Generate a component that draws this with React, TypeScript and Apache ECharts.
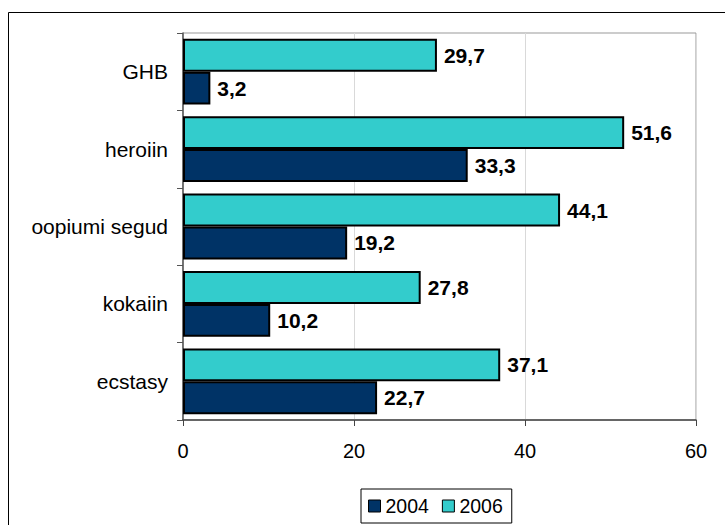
import React, { useEffect, useRef } from "react";
import * as echarts from "echarts";

const categories = ["ecstasy", "kokaiin", "oopiumi segud", "heroiin", "GHB"];
const values2004 = [22.7, 10.2, 19.2, 33.3, 3.2];
const values2006 = [37.1, 27.8, 44.1, 51.6, 29.7];
const seriesNames = ["2004", "2006"];
const xTicks = { min: 0, max: 60, interval: 20 };

const fmt = (v: number) => v.toFixed(1).replace(".", ",");

export default function App() {
  const ref = useRef<HTMLDivElement>(null);
  useEffect(() => {
    if (!ref.current) return;
    const chart = echarts.init(ref.current, null, { renderer: "svg" });
    const font = "Arial, 'Liberation Sans', sans-serif";
    const labelCfg = {
      show: true,
      position: "right" as const,
      distance: 7,
      fontFamily: font,
      fontSize: 21,
      fontWeight: "bold" as const,
      color: "#000",
      formatter: (p: any) => fmt(p.value),
    };
    chart.setOption({
      animation: false,
      backgroundColor: "#fff",
      textStyle: { fontFamily: font },
      grid: {
        left: 183,
        top: 33,
        right: 29,
        bottom: 105,
        show: true,
        borderColor: "#999",
        borderWidth: 1,
        containLabel: false,
      },
      legend: {
        data: seriesNames,
        left: 361,
        top: 489,
        orient: "horizontal",
        itemWidth: 12,
        itemHeight: 12,
        itemGap: 13,
        icon: "rect",
        borderColor: "#000",
        borderWidth: 1,
        padding: [7, 9, 7, 7],
        textStyle: { fontFamily: font, fontSize: 19.5, color: "#000" },
        itemStyle: { borderColor: "#000", borderWidth: 1 },
      },
      xAxis: {
        type: "value",
        min: xTicks.min,
        max: xTicks.max,
        interval: xTicks.interval,
        axisLine: { show: true, lineStyle: { color: "#444", width: 1.5 } },
        axisTick: { show: true, length: 6, lineStyle: { color: "#444" } },
        axisLabel: { fontFamily: font, fontSize: 20, color: "#000", margin: 21 },
        splitLine: { show: true, lineStyle: { color: "#d9d9d9", width: 1 } },
      },
      yAxis: {
        type: "category",
        data: categories,
        axisLine: { show: true, lineStyle: { color: "#555", width: 1.5 } },
        axisTick: { show: true, length: 6, lineStyle: { color: "#555" } },
        axisLabel: { fontFamily: font, fontSize: 21, color: "#000", margin: 15 },
        splitLine: { show: false },
      },
      series: [
        {
          name: seriesNames[1],
          type: "bar",
          data: values2006,
          barGap: "0%",
          barCategoryGap: "15%",
          itemStyle: { color: "#33CCCC", borderColor: "#000", borderWidth: 2 },
          label: labelCfg,
        },
        {
          name: seriesNames[0],
          type: "bar",
          data: values2004,
          barGap: "0%",
          barCategoryGap: "15%",
          itemStyle: { color: "#003366", borderColor: "#000", borderWidth: 2 },
          label: labelCfg,
        },
      ],
      graphic: [
        {
          type: "rect",
          silent: true,
          z: 100,
          shape: { x: 8.5, y: 12.5, width: 740, height: 540 },
          style: { fill: "none", stroke: "#000", lineWidth: 1 },
        },
      ],
    });
    return () => chart.dispose();
  }, []);
  return (
    <div
      ref={ref}
      style={{ position: "absolute", left: 0, top: 0, width: 725, height: 525 }}
    />
  );
}
